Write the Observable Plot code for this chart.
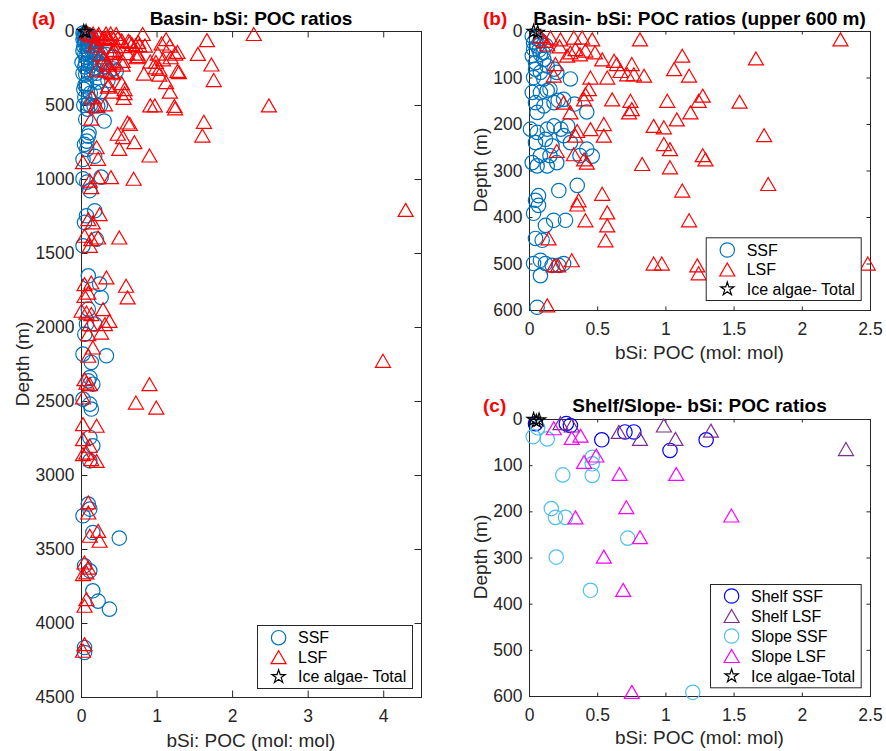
<!DOCTYPE html>
<html><head><meta charset="utf-8">
<script src="https://cdn.jsdelivr.net/npm/d3@7"></script>
<script src="https://cdn.jsdelivr.net/npm/@observablehq/plot@0.6"></script>
<style>
body{margin:0;background:#fff;}
#wrap{position:relative;width:886px;height:751px;font-family:"Liberation Sans",Arial,sans-serif;background:#fff;}
.pn{position:absolute;}
</style></head><body><div id="wrap"></div>
<script>
// ---------- data: [bSi:POC ratio (mol:mol), depth (m)] ----------
const basinSSF = [
 [0.02,10],[0.05,15],[0.08,20],[0.03,38],[0.07,40],[0.10,45],[0.12,30],
 [0.03,24],[0.056,31],[0.02,52],[0.08,49],[0.044,67],[0.105,60],[0.13,74],[0.044,81],[0.08,88],[0.03,99],[0.105,102],[0.18,81],[0.20,88],[0.30,102],
 [0.02,131],[0.08,131],[0.15,124],[0.13,127],[0.21,148],[0.044,153],[0.105,160],[0.056,174],[0.18,153],[0.25,146],[0.33,156],[0.42,173],
 [0.007,210],[0.056,217],[0.13,210],[0.18,203],[0.23,210],[0.28,203],[0.044,239],[0.117,232],[0.166,246],[0.25,224],[0.30,239],[0.42,253],[0.46,268],[0.37,267],[0.08,267],[0.15,267],[0.02,282],[0.056,289],[0.13,289],[0.20,282],
 [0.35,331],[0.215,342],[0.066,353],[0.044,363],[0.066,374],[0.03,391],[0.177,406],[0.264,406],[0.117,417],[0.044,445],[0.093,449],[0.03,499],[0.08,492],[0.117,499],[0.166,503],[0.215,503],[0.25,499],[0.08,525],[0.056,593],
 [0.30,605],[0.10,684],[0.09,707],[0.07,741],[0.04,763],[0.07,797],[0.02,865],[0.175,843],[0.02,995],[0.07,1018],[0.11,1075],[0.26,984],
 [0.175,1211],[0.066,1245],[0.04,1290],[0.197,1403],[0.02,1448],[0.09,1651],[0.24,1707],[0.26,1797],[0.09,1876],[0.066,1977],[0.175,1977],[0.044,2045],
 [0.02,2180],[0.13,2236],[0.33,2191],[0.11,2338],[0.09,2360],[0.15,2383],[0.02,2484],[0.11,2518],[0.13,2551],[0.11,2743],[0.15,2799],[0.11,2901],
 [0.09,3193],[0.11,3227],[0.02,3272],[0.15,3385],[0.50,3423],[0.04,3610],[0.11,3644],[0.15,3779],[0.22,3849],[0.37,3903],[0.04,4162],[0.04,4196]
];
const basinLSF = [
 [0.08,10],[0.13,28],[0.22,32],
 [0.105,20],[0.154,13],[0.227,17],[0.325,13],[0.386,13],[0.46,17],[0.81,17],[2.28,17],
 [0.30,45],[0.337,38],[0.37,49],[0.41,41],[0.48,45],[0.276,52],[0.19,70],[0.533,60],[0.62,63],[0.64,70],[0.75,70],[0.84,95],[0.667,85],[0.716,92],[0.765,92],[0.57,99],[0.447,99],[0.178,95],[1.12,52],[1.06,81],[1.17,95],[1.66,58],
 [0.435,124],[0.41,135],[0.40,146],[0.25,153],[0.30,174],[0.606,146],[0.74,149],[0.75,167],[0.73,174],[1.01,149],[1.24,149],[1.27,138],[1.54,151],[1.18,174],
 [0.35,214],[0.337,224],[0.447,210],[0.545,199],[0.545,224],[0.91,203],[0.985,206],[1.08,189],[1.72,223],
 [0.20,257],[0.325,264],[0.40,275],[0.42,282],[0.826,285],[0.985,242],[1.03,253],[1.03,292],[1.27,266],[1.29,275],
 [0.533,349],[0.36,363],[0.35,372],[0.57,389],[0.41,406],[0.57,417],[1.12,342],[1.75,328],[1.17,406],[0.557,449],[0.14,445],
 [0.31,492],[0.21,503],[0.18,503],[0.91,499],[0.97,499],[1.23,503],[1.24,520],[2.48,499],[0.13,589],
 [0.61,615],[0.64,625],[1.62,610],[1.60,703],[0.48,691],[0.55,714],[0.70,748],[0.20,782],[0.50,793],[0.22,860],[0.90,838],[0.02,883],[0.39,984],[0.69,995],[0.22,984],[0.11,1007],[0.13,1052],
 [0.24,1234],[0.09,1268],[0.15,1290],[0.04,1380],[0.13,1403],[0.22,1392],[0.50,1392],[0.11,1448],[4.29,1205],
 [0.33,1662],[0.59,1718],[0.61,1797],[0.04,1707],[0.13,1696],[0.09,1764],[0.04,1786],[0.285,1876],[0.0,1887],[0.066,1899],[0.13,1909],[0.37,1955],[0.31,1977],[0.11,1977],[0.26,2034],[0.09,2045],[0.15,2135],[0.09,2191],
 [0.04,2349],[0.066,2372],[0.11,2383],[0.90,2383],[0.72,2507],[0.99,2541],[0.02,2473],[3.99,2225],
 [0.02,2653],[0.2,2664],[0.02,2754],[0.11,2799],[0.02,2856],[0.066,2845],[0.13,2889],[0.2,2901],
 [0.09,3182],[0.09,3250],[0.22,3374],[0.24,3441],[0.11,3407],[0.04,3588],[0.09,3622],[0.02,3666],[0.066,3655],[0.066,3835],[0.04,3880],[0.04,4139],[0.02,4184]
];
const basinIce = [[0.03,0],[0.06,2]];
const shelfSSF = [[0.044,9],[0.27,9],[0.30,13],[0.53,44],[0.70,27],[0.765,27],[1.03,67],[1.295,44]];
const shelfLSF = [[0.227,8],[0.31,13],[0.655,27],[0.81,42],[0.985,13],[1.07,42],[1.33,24],[2.32,64]];
const slopeSSF = [[0.027,37],[0.06,18],[0.13,42],[0.46,82],[0.46,96],[0.46,121],[0.244,120],[0.16,193],[0.19,212],[0.264,212],[0.72,257],[0.196,298],[0.447,370],[1.197,591]];
const slopeLSF = [[0.178,19],[0.31,40],[0.374,35],[0.40,92],[0.49,78],[0.66,118],[1.076,118],[0.71,190],[1.48,208],[0.337,212],[0.81,255],[0.545,297],[0.687,369],[0.75,590]];
const shelfIce = [[0.03,0],[0.05,4],[0.07,1]];

const xTicksA = [0,1,2,3,4];
const yTicksA = [0,500,1000,1500,2000,2500,3000,3500,4000,4500];
const xTicksB = [0,0.5,1,1.5,2,2.5];
const yTicksB = [0,100,200,300,400,500,600];

// ---------- styling ----------
const AX = "#262626";
const C = {ssf:"#0072BD", lsf:"#FF0000", shelfSSF:"#0000FF", shelfLSF:"#7E2F8E", slopeSSF:"#4DBEEE", slopeLSF:"#FF00FF", ice:"#000000"};
const triSym = {draw(ctx, size){ const r = Math.sqrt(size/Math.PI), h = r*0.866; ctx.moveTo(0,-h); ctx.lineTo(r,h); ctx.lineTo(-r,h); ctx.closePath(); }};
const cirSym = {draw(ctx, size){ const r = Math.sqrt(size/Math.PI); ctx.moveTo(r,0); ctx.arc(0,0,r,0,2*Math.PI); ctx.closePath(); }};
const starSym = {draw(ctx, size){ const R = Math.sqrt(size/Math.PI), ri = R*0.382;
  for (let i=0;i<10;i++){ const a = -Math.PI/2 + i*Math.PI/5, rr = i%2?ri:R; const px=rr*Math.cos(a), py=rr*Math.sin(a); if(i===0) ctx.moveTo(px,py); else ctx.lineTo(px,py);} ctx.closePath(); }};
const SZ = {cir:7.2, tri:7.5, star:7};

function makePanel(o){
  const W = o.width - o.ml - o.mr, H = o.height - o.mt - o.mb;
  const marks = [
    Plot.frame({stroke: AX, strokeWidth: 1}),
    Plot.ruleX(o.xt, {x: d=>d, insetTop: H - o.tl, stroke: AX}),
    Plot.ruleX(o.xt, {x: d=>d, insetBottom: H - o.tl, stroke: AX}),
    Plot.ruleY(o.yt, {y: d=>d, insetRight: W - o.tl, stroke: AX}),
    Plot.ruleY(o.yt, {y: d=>d, insetLeft: W - o.tl, stroke: AX}),
    Plot.axisX(o.xt, {tickSize: 0, tickPadding: 12, tickFormat: d=>String(d), label: null}),
    Plot.axisY(o.yt, {tickSize: 0, tickPadding: 7, tickFormat: d=>String(d), label: null}),
    ...o.layers.map(L => Plot.dot(L.data.filter(d => d[0] <= o.xd[1] && d[1] <= o.yd[1]),
      {x: d=>d[0], y: d=>d[1], symbol: L.symbol, r: L.r, stroke: L.color, fill: "none", strokeWidth: 1.2}))
  ];
  const svg = Plot.plot({
    width: o.width, height: o.height,
    marginLeft: o.ml, marginRight: o.mr, marginTop: o.mt, marginBottom: o.mb,
    x: {domain: o.xd}, y: {domain: o.yd, reverse: true},
    style: {fontFamily: '"Liberation Sans", Arial, sans-serif', fontSize: "17.5px", color: AX, background: "transparent", overflow: "visible"},
    marks
  });
  const div = document.createElement("div");
  div.className = "pn"; div.style.left = o.left + "px"; div.style.top = o.top + "px";
  div.appendChild(svg);
  document.getElementById("wrap").appendChild(div);
}

const basinLayers = [
  {data: basinSSF, symbol: cirSym, r: SZ.cir, color: C.ssf},
  {data: basinLSF, symbol: triSym, r: SZ.tri, color: C.lsf},
  {data: basinIce, symbol: starSym, r: SZ.star, color: C.ice}
];

makePanel({left:0, top:0, width:440, height:751, ml:81, mr:19, mt:31, mb:54,
  xd:[0,4.5], yd:[0,4500], xt:xTicksA, yt:yTicksA, tl:6.5, layers: basinLayers});
makePanel({left:440, top:0, width:446, height:370, ml:89, mr:16, mt:31, mb:60,
  xd:[0,2.5], yd:[0,600], xt:xTicksB, yt:yTicksB, tl:3.5, layers: basinLayers});
makePanel({left:440, top:370, width:446, height:381, ml:89, mr:16, mt:49, mb:55,
  xd:[0,2.5], yd:[0,600], xt:xTicksB, yt:yTicksB, tl:3.5, layers: [
    {data: shelfSSF, symbol: cirSym, r: SZ.cir, color: C.shelfSSF},
    {data: shelfLSF, symbol: triSym, r: SZ.tri, color: C.shelfLSF},
    {data: slopeSSF, symbol: cirSym, r: SZ.cir, color: C.slopeSSF},
    {data: slopeLSF, symbol: triSym, r: SZ.tri, color: C.slopeLSF},
    {data: shelfIce, symbol: starSym, r: SZ.star, color: C.ice}
  ]});

// ---------- overlay: titles, labels, legends ----------
const ov = d3.select("#wrap").append("svg").attr("class","pn").attr("width",886).attr("height",751)
  .style("left","0px").style("top","0px").style("pointer-events","none")
  .style("font-family",'"Liberation Sans", Arial, sans-serif');

function txt(x,y,s,opt={}){
  const t = ov.append("text").attr("x",x).attr("y",y).text(s)
    .attr("font-size", opt.size||19).attr("fill", opt.fill||AX)
    .attr("text-anchor", opt.anchor||"middle").attr("font-weight", opt.bold?"bold":"normal");
  if (opt.dy) t.attr("dy", opt.dy);
  if (opt.rot) t.attr("transform", `rotate(-90,${x},${y})`);
  return t;
}
// panel letters & titles
txt(32,25,"(a)",{bold:true,fill:"#FF0000",anchor:"start"});
txt(251,25,"Basin- bSi: POC ratios",{bold:true,fill:"#000"});
txt(483,25,"(b)",{bold:true,fill:"#FF0000",anchor:"start"});
txt(699.5,25,"Basin- bSi: POC ratios (upper 600 m)",{bold:true,fill:"#000"});
txt(483,412,"(c)",{bold:true,fill:"#FF0000",anchor:"start"});
txt(699.5,412,"Shelf/Slope- bSi: POC ratios",{bold:true,fill:"#000"});
// axis labels
txt(251,740,"bSi: POC (mol: mol)",{dy:"0.35em"});
txt(699.5,352,"bSi: POC (mol: mol)",{dy:"0.35em"});
txt(699.5,737,"bSi: POC (mol: mol)",{dy:"0.35em"});
txt(22,364,"Depth (m)",{dy:"0.35em",rot:true});
txt(480,170,"Depth (m)",{dy:"0.35em",rot:true});
txt(480,557,"Depth (m)",{dy:"0.35em",rot:true});

function symPath(sym, r){ const p = d3.path(); sym.draw(p, Math.PI*r*r); return p.toString(); }
function legend(x,y,w,h,items,y0,step){
  const g = ov.append("g");
  g.append("rect").attr("x",x+0.5).attr("y",y+0.5).attr("width",w).attr("height",h)
    .attr("fill","#fff").attr("stroke",AX).attr("stroke-width",1);
  items.forEach((it,i)=>{
    const cy = y + y0 + i*step;
    g.append("path").attr("d", symPath(it.symbol, it.r)).attr("transform",`translate(${x+21.6},${cy})`)
      .attr("fill","none").attr("stroke",it.color).attr("stroke-width",1.2);
    g.append("text").attr("x",x+41).attr("y",cy).attr("dy","0.35em").attr("font-size",16)
      .attr("fill","#000").text(it.label);
  });
}
const basinLeg = [
  {label:"SSF", symbol:cirSym, r:SZ.cir, color:C.ssf},
  {label:"LSF", symbol:triSym, r:SZ.tri, color:C.lsf},
  {label:"Ice algae- Total", symbol:starSym, r:SZ.star, color:C.ice}
];
legend(257,625,155,63,basinLeg,12.7,19.5);
legend(705.7,237.3,155,62.7,basinLeg,12.7,19.5);
legend(710,584,150.7,103.3,[
  {label:"Shelf SSF", symbol:cirSym, r:SZ.cir, color:C.shelfSSF},
  {label:"Shelf LSF", symbol:triSym, r:SZ.tri, color:C.shelfLSF},
  {label:"Slope SSF", symbol:cirSym, r:SZ.cir, color:C.slopeSSF},
  {label:"Slope LSF", symbol:triSym, r:SZ.tri, color:C.slopeLSF},
  {label:"Ice algae-Total", symbol:starSym, r:SZ.star, color:C.ice}
],12,20);
</script>
</body></html>
